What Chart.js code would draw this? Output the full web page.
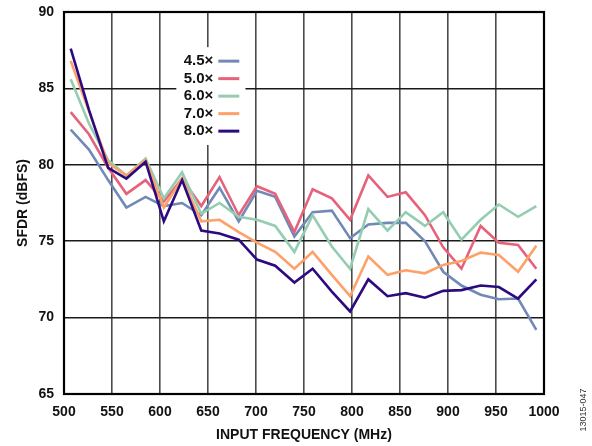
<!DOCTYPE html>
<html>
<head>
<meta charset="utf-8">
<script src="https://cdn.jsdelivr.net/npm/chart.js@4.4.1/dist/chart.umd.min.js"></script>
<style>
  html, body { margin: 0; padding: 0; background: #fff; }
  #wrap { width: 592px; height: 446px; }
</style>
</head>
<body>
<div id="wrap"><canvas id="sfdrChart" width="592" height="446"></canvas></div>
<script>
// input frequencies (MHz) of the measured points
var freqMHz = [507, 526, 546, 565, 585, 604, 623, 643, 662, 682, 701, 720, 740,
               759, 779, 798, 817, 837, 856, 876, 895, 914, 934, 953, 973, 992];

// SFDR (dBFS) per interpolation setting
var sfdr45 = [82.3, 81.0, 79.0, 77.2, 77.9, 77.3, 77.5, 76.7, 78.5, 76.3, 78.3, 77.9, 75.3,
              76.9, 77.0, 75.2, 76.1, 76.2, 76.2, 75.0, 73.0, 72.1, 71.5, 71.2, 71.25, 69.2];
var sfdr50 = [83.45, 82.0, 79.8, 78.1, 79.0, 77.6, 79.1, 77.3, 79.2, 76.7, 78.6, 78.1, 75.6,
              78.4, 77.8, 76.4, 79.3, 77.9, 78.2, 76.7, 74.6, 73.2, 76.0, 74.9, 74.75, 73.2];
var sfdr60 = [85.6, 82.7, 80.3, 79.3, 80.4, 77.8, 79.5, 76.8, 77.5, 76.6, 76.4, 76.0, 74.3,
              76.7, 74.65, 73.2, 77.1, 75.7, 76.9, 76.0, 76.9, 75.1, 76.4, 77.4, 76.6, 77.3];
var sfdr70 = [86.8, 83.5, 80.1, 79.3, 80.3, 77.2, 79.1, 76.3, 76.4, 75.6, 74.9, 74.3, 73.2,
              74.3, 72.8, 71.4, 74.0, 72.8, 73.1, 72.9, 73.45, 73.7, 74.25, 74.1, 73.0, 74.7];
var sfdr80 = [87.6, 83.6, 79.8, 79.1, 80.2, 76.3, 79.0, 75.7, 75.5, 75.1, 73.8, 73.4, 72.3,
              73.2, 71.7, 70.4, 72.5, 71.4, 71.6, 71.3, 71.75, 71.8, 72.1, 72.0, 71.25, 72.5];

var seriesLabels = ["4.5\u00d7", "5.0\u00d7", "6.0\u00d7", "7.0\u00d7", "8.0\u00d7"];
var seriesValues = [sfdr45, sfdr50, sfdr60, sfdr70, sfdr80];
var seriesColors = ["#7189b6", "#e6627a", "#95cdb0", "#fea168", "#2c0b80"];

var xTicks = [500, 550, 600, 650, 700, 750, 800, 850, 900, 950, 1000];
var yTicks = [65, 70, 75, 80, 85, 90];

var FONT = "'Liberation Sans', Arial, sans-serif";

function toPoints(values) {
  var pts = [];
  for (var i = 0; i < values.length; i++) {
    pts.push({ x: freqMHz[i], y: values[i] });
  }
  return pts;
}

var datasets = [];
for (var s = 0; s < seriesLabels.length; s++) {
  datasets.push({
    label: seriesLabels[s],
    data: toPoints(seriesValues[s]),
    borderColor: seriesColors[s],
    backgroundColor: seriesColors[s],
    borderWidth: 2.6,
    pointRadius: 0,
    tension: 0,
    order: seriesLabels.length - s // later series drawn on top
  });
}

// legend box sitting inside the plot, plus the frame and the figure number
var extrasPlugin = {
  id: "extras",
  afterDatasetsDraw: function(chart) {
    var ctx = chart.ctx;
    var area = chart.chartArea;
    var xs = chart.scales.x, ys = chart.scales.y;

    // legend
    var bx = xs.getPixelForValue(617), by = ys.getPixelForValue(87.7);
    var bx2 = xs.getPixelForValue(689), by2 = ys.getPixelForValue(81.3);
    ctx.save();
    ctx.fillStyle = "#fff";
    ctx.fillRect(bx, by, bx2 - bx, by2 - by);
    ctx.font = "bold 15px " + FONT;
    ctx.textAlign = "right";
    ctx.textBaseline = "middle";
    for (var i = 0; i < chart.data.datasets.length; i++) {
      var ds = chart.data.datasets[i];
      var rowY = by + 14 + i * 17.5;
      ctx.fillStyle = "#111";
      ctx.fillText(ds.label, bx + 37, rowY);
      ctx.strokeStyle = ds.borderColor;
      ctx.lineWidth = 3;
      ctx.beginPath();
      ctx.moveTo(bx + 42, rowY);
      ctx.lineTo(bx + 63, rowY);
      ctx.stroke();
    }
    ctx.restore();

    // plot frame
    ctx.save();
    ctx.strokeStyle = "#000";
    ctx.lineWidth = 2.2;
    ctx.strokeRect(area.left, area.top, area.right - area.left, area.bottom - area.top);
    ctx.restore();

    // figure id on the right edge
    ctx.save();
    ctx.translate(584, 410);
    ctx.rotate(-Math.PI / 2);
    ctx.font = "9px " + FONT;
    ctx.fillStyle = "#333";
    ctx.textAlign = "center";
    ctx.textBaseline = "middle";
    ctx.fillText("13015-047", 0, 0);
    ctx.restore();
  }
};

var ctx = document.getElementById("sfdrChart").getContext("2d");
var chart = new Chart(ctx, {
  type: "line",
  data: { datasets: datasets },
  plugins: [extrasPlugin],
  options: {
    responsive: false,
    animation: false,
    layout: { padding: { top: 12, right: 48, left: 0, bottom: 0 } },
    plugins: { legend: { display: false }, tooltip: { enabled: false } },
    scales: {
      x: {
        type: "linear",
        min: 500,
        max: 1000,
        afterFit: function(scale) {
          scale.height = 52;
          scale.paddingLeft = 0;
          scale.paddingRight = 0;
        },
        afterBuildTicks: function(scale) {
          scale.ticks = xTicks.map(function(v) { return { value: v }; });
        },
        grid: { color: "#4a4a4a", lineWidth: 1.6, drawTicks: false },
        border: { display: false },
        ticks: {
          padding: 10,
          color: "#111",
          maxRotation: 0,
          callback: function(v) { return String(v); },
          font: { family: FONT, size: 14, weight: "bold" }
        },
        title: {
          display: true,
          text: "INPUT FREQUENCY (MHz)",
          color: "#111",
          padding: { top: 0, bottom: 2 },
          font: { family: FONT, size: 14, weight: "bold" }
        }
      },
      y: {
        type: "linear",
        min: 65,
        max: 90,
        afterFit: function(scale) {
          scale.width = 64;
          scale.paddingTop = 0;
          scale.paddingBottom = 0;
        },
        afterBuildTicks: function(scale) {
          scale.ticks = yTicks.map(function(v) { return { value: v }; });
        },
        grid: { color: "#1a1a1a", lineWidth: 1.6, drawTicks: false },
        border: { display: false },
        ticks: {
          padding: 10,
          color: "#111",
          callback: function(v) { return String(v); },
          font: { family: FONT, size: 14, weight: "bold" }
        },
        title: {
          display: true,
          text: "SFDR (dBFS)",
          color: "#111",
          padding: { top: 15, bottom: 0 },
          font: { family: FONT, size: 14, weight: "bold" }
        }
      }
    }
  }
});
</script>
</body>
</html>
